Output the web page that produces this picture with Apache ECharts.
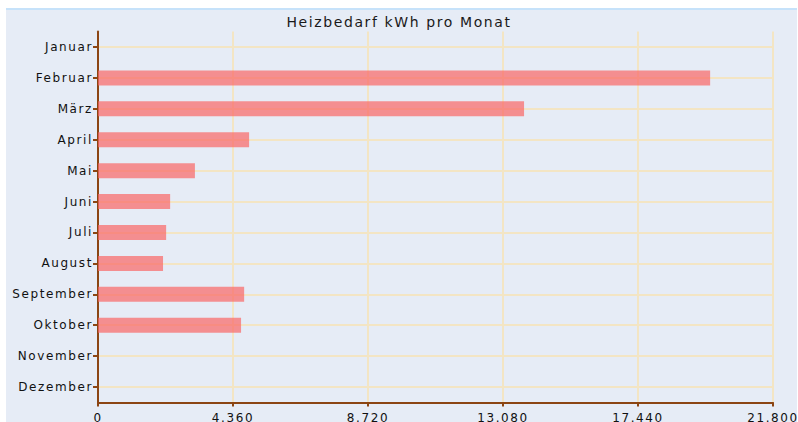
<!DOCTYPE html>
<html>
<head>
<meta charset="utf-8">
<script src="https://cdn.jsdelivr.net/npm/echarts@6/dist/echarts.min.js"></script>
<style>
    html, body { margin: 0; padding: 0; background: #fff; }
    #bg {
        position: absolute; left: 6px; top: 8px; width: 791px; height: 412px;
        background: #e6ecf6; border-top: 2px solid #c6e2fa;
    }
    #chart { position: absolute; left: 0; top: 0; width: 798px; height: 422px; }
    #chart text { letter-spacing: 1.6px; }
</style>
</head>
<body>
<div id="bg"></div>
<div id="chart"></div>
<script>
    // Monate und Heizbedarf (kWh)
    var months = ['Januar', 'Februar', 'März', 'April', 'Mai', 'Juni', 'Juli',
        'August', 'September', 'Oktober', 'November', 'Dezember'];
    var heizbedarf = [0, 19770, 13760, 4880, 3130, 2330, 2200, 2100, 4720, 4620, 0, 0];
    var xTicks = [0, 4360, 8720, 13080, 17440, 21800];

    var brown = '#8b4513';
    var gridColor = '#f3e5c4';

    function formatDe(value) {
        return String(value).replace(/\B(?=(\d{3})+(?!\d))/g, '.');
    }

    var myChart = echarts.init(document.getElementById('chart'), null, {renderer: 'svg'});

    var option = {
        backgroundColor: 'transparent',
        textStyle: {fontFamily: 'DejaVu Sans'},
        title: {
            text: 'Heizbedarf kWh pro Monat',
            left: 'center',
            top: 10,
            textStyle: {fontSize: 14, fontWeight: 'normal', color: '#1a1a1a'},
        },
        grid: {
            left: 98,
            right: 25,
            top: 31.5,
            bottom: 19.5,
            outerBoundsMode: 'none',
        },
        xAxis: {
            type: 'value',
            min: xTicks[0],
            max: xTicks[xTicks.length - 1],
            interval: xTicks[1] - xTicks[0],
            axisLine: {show: true, lineStyle: {color: brown, width: 2}},
            axisTick: {show: true, length: 4, lineStyle: {color: brown, width: 2}},
            axisLabel: {
                margin: 9,
                fontSize: 12,
                color: '#111',
                formatter: formatDe,
            },
            splitLine: {show: true, lineStyle: {color: gridColor, width: 2}},
        },
        yAxis: {
            type: 'category',
            inverse: true,
            data: months,
            axisLine: {show: true, lineStyle: {color: brown, width: 2}},
            axisTick: {show: true, alignWithLabel: true, length: 5, lineStyle: {color: brown, width: 2}},
            axisLabel: {margin: 5, fontSize: 12, color: '#111'},
            splitLine: {show: true, alignWithLabel: true, lineStyle: {color: gridColor, width: 2}},
        },
        series: [
            {
                name: 'Heizbedarf',
                type: 'bar',
                data: heizbedarf,
                barWidth: 15,
                itemStyle: {color: 'rgba(250, 103, 101, 0.7)'},
            },
        ],
    };

    myChart.setOption(option);
</script>
</body>
</html>
